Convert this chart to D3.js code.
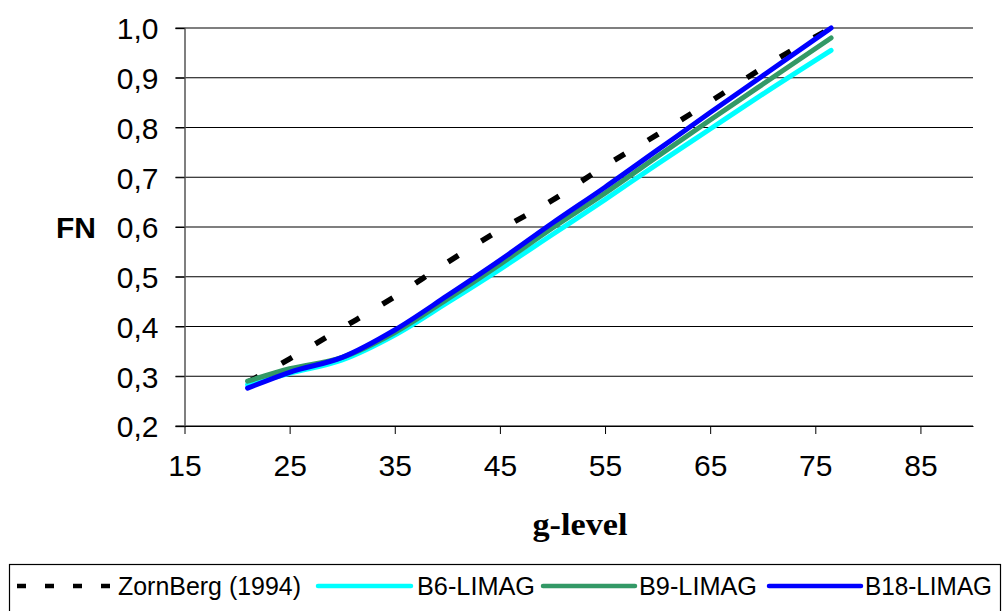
<!DOCTYPE html>
<html>
<head>
<meta charset="utf-8">
<script src="https://cdn.jsdelivr.net/npm/d3@7"></script>
<style>
  html, body { margin: 0; padding: 0; background: #fff; }
  svg { display: block; }
</style>
</head>
<body>
<svg id="chart" width="1002" height="611"></svg>
<script>
// g-level values where each series was sampled
const zornbergG = [21, 25, 30, 35, 40, 45, 50, 55, 60, 65, 70, 76.5];
const zornbergFN = [0.288, 0.335, 0.397, 0.46, 0.529, 0.594, 0.654, 0.723, 0.786, 0.852, 0.92, 1.0];

const limagG = [21, 25, 30, 35, 40, 45, 50, 55, 60, 65, 70, 76.5];
const b6FN  = [0.283, 0.306, 0.333, 0.383, 0.448, 0.515, 0.585, 0.655, 0.727, 0.797, 0.867, 0.955];
const b9FN  = [0.290, 0.315, 0.338, 0.388, 0.455, 0.525, 0.598, 0.668, 0.742, 0.815, 0.887, 0.980];
const b18FN = [0.276, 0.308, 0.338, 0.393, 0.462, 0.533, 0.608, 0.680, 0.755, 0.830, 0.904, 1.000];

const seriesNames = ["ZornBerg (1994)", "B6-LIMAG", "B9-LIMAG", "B18-LIMAG"];
const xTicks = [15, 25, 35, 45, 55, 65, 75, 85];
const yTicks = [0.2, 0.3, 0.4, 0.5, 0.6, 0.7, 0.8, 0.9, 1.0];

const series = [
  { name: seriesNames[0], g: zornbergG, v: zornbergFN, color: "#000000", dash: "12,27" },
  { name: seriesNames[1], g: limagG, v: b6FN,  color: "#00FFFF", dash: null },
  { name: seriesNames[2], g: limagG, v: b9FN,  color: "#339966", dash: null },
  { name: seriesNames[3], g: limagG, v: b18FN, color: "#0000FF", dash: null }
];

const svg = d3.select("#chart");
const x = d3.scaleLinear().domain([15, 90]).range([184.5, 973]);
const y = d3.scaleLinear().domain([0.2, 1.0]).range([426, 28]);

const comma = d3.formatLocale({ decimal: ",", thousands: ".", grouping: [3], currency: ["", ""] }).format(".1f");

// horizontal gridlines (extend left through the tick marks)
svg.append("g")
  .selectAll("line")
  .data(yTicks)
  .join("line")
  .attr("x1", x(15) - 9)
  .attr("x2", x(90))
  .attr("y1", d => y(d))
  .attr("y2", d => y(d))
  .attr("stroke", "#000")
  .attr("stroke-width", 1.2);

// y axis
const yAxis = svg.append("g")
  .attr("transform", `translate(${x(15)},0)`)
  .call(d3.axisLeft(y).tickValues(yTicks).tickFormat(comma).tickSize(9).tickPadding(17));
yAxis.select(".domain").attr("stroke", "#555").attr("stroke-width", 1.5);
yAxis.selectAll(".tick line").attr("stroke", "#000");
yAxis.selectAll("text")
  .attr("font-family", "Liberation Sans, Arial, sans-serif")
  .attr("font-size", 30)
  .attr("fill", "#000")
  .attr("dy", "0.36em");

// x axis
const xAxis = svg.append("g")
  .attr("transform", `translate(0,${y(0.2)})`)
  .call(d3.axisBottom(x).tickValues(xTicks).tickSize(8).tickPadding(21).tickSizeOuter(0));
xAxis.select(".domain").attr("stroke", "#000").attr("stroke-width", 1.2);
xAxis.selectAll(".tick line").attr("stroke", "#000");
xAxis.selectAll("text")
  .attr("font-family", "Liberation Sans, Arial, sans-serif")
  .attr("font-size", 30)
  .attr("fill", "#000");

// axis titles
svg.append("text")
  .attr("x", 76).attr("y", 238)
  .attr("text-anchor", "middle")
  .attr("font-family", "Liberation Sans, Arial, sans-serif")
  .attr("font-weight", "bold")
  .attr("font-size", 30)
  .text("FN");

svg.append("text")
  .attr("x", 580).attr("y", 535)
  .attr("text-anchor", "middle")
  .attr("font-family", "Liberation Serif, Times New Roman, serif")
  .attr("font-weight", "bold")
  .attr("font-size", 31)
  .attr("textLength", 95)
  .attr("lengthAdjust", "spacingAndGlyphs")
  .text("g-level");

// series lines
const line = d3.line()
  .x(d => x(d[0]))
  .y(d => y(d[1]))
  .curve(d3.curveMonotoneX);

svg.append("g")
  .selectAll("path")
  .data(series)
  .join("path")
  .attr("d", s => line(s.g.map((g, i) => [g, s.v[i]])))
  .attr("fill", "none")
  .attr("stroke", s => s.color)
  .attr("stroke-width", s => s.dash ? 5.5 : 5)
  .attr("stroke-linecap", s => s.dash ? "butt" : "round")
  .attr("stroke-linejoin", "round")
  .attr("stroke-dasharray", s => s.dash);

// legend
const legend = svg.append("g");
legend.append("rect")
  .attr("x", 9.5).attr("y", 564.5)
  .attr("width", 991).attr("height", 60)
  .attr("fill", "#fff")
  .attr("stroke", "#000")
  .attr("stroke-width", 1.2);

const legendItems = [
  { lx1: 17, lx2: 112, tx: 118, tw: 183, dash: "9,19" },
  { lx1: 318, lx2: 411, tx: 417, tw: 118, dash: null },
  { lx1: 543, lx2: 635, tx: 639, tw: 118, dash: null },
  { lx1: 769, lx2: 861, tx: 865, tw: 127, dash: null }
];

legendItems.forEach((it, i) => {
  const s = series[i];
  legend.append("line")
    .attr("x1", it.lx1).attr("x2", it.lx2)
    .attr("y1", 586).attr("y2", 586)
    .attr("stroke", s.color)
    .attr("stroke-width", 4.5)
    .attr("stroke-linecap", s.dash ? "butt" : "round")
    .attr("stroke-dasharray", it.dash);
  legend.append("text")
    .attr("x", it.tx).attr("y", 595)
    .attr("font-family", "Liberation Sans, Arial, sans-serif")
    .attr("font-size", 26)
    .attr("textLength", it.tw)
    .attr("lengthAdjust", "spacingAndGlyphs")
    .text(s.name);
});
</script>
</body>
</html>
